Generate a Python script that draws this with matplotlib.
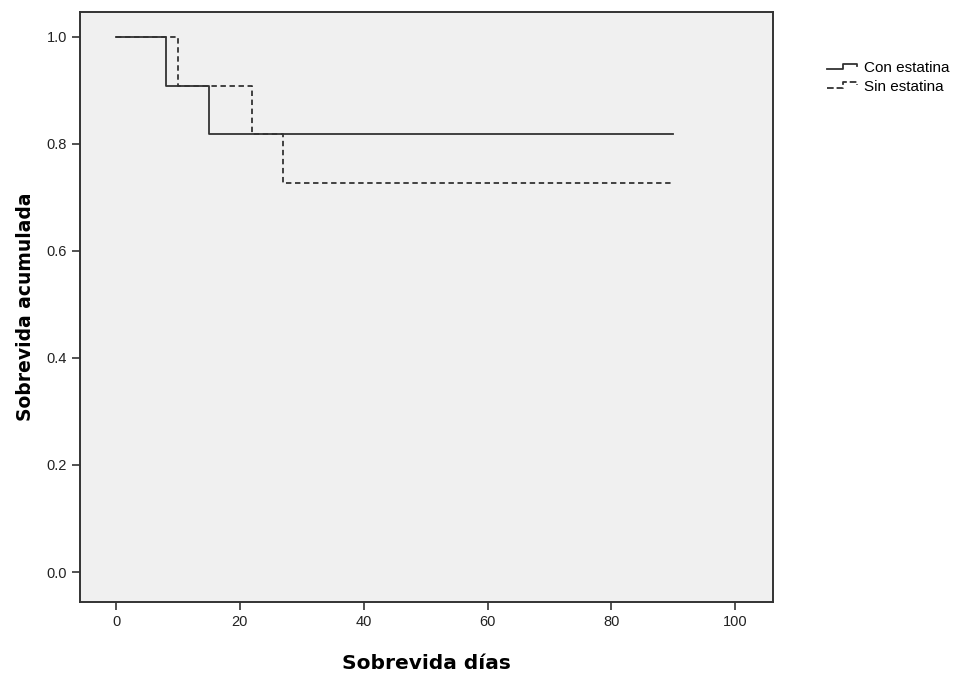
import matplotlib
matplotlib.use('Agg')
import matplotlib.pyplot as plt
from matplotlib.lines import Line2D
from matplotlib.legend_handler import HandlerLine2D

# Kaplan-Meier step data (days, cumulative survival)
con_t = [0, 8, 15, 90]
con_s = [1.0, 0.909, 0.818, 0.818]
sin_t = [0, 10, 22, 27, 90]
sin_s = [1.0, 0.909, 0.818, 0.727, 0.727]

groups = ['Con estatina', 'Sin estatina']
x_ticks = [0, 20, 40, 60, 80, 100]
y_ticks = [0.0, 0.2, 0.4, 0.6, 0.8, 1.0]
y_ticklabels = ['0.0', '0.2', '0.4', '0.6', '0.8', '1.0']


class StepHandler(HandlerLine2D):
    # draw a little step glyph in the legend, like SPSS does
    def create_artists(self, legend, orig_handle, xdescent, ydescent,
                       width, height, fontsize, trans):
        x0 = -xdescent
        y0 = -ydescent
        xs = [x0, x0 + width * 0.45, x0 + width * 0.45, x0 + width * 0.85, x0 + width * 0.85]
        ys = [y0 + height * 0.3, y0 + height * 0.3, y0 + height * 0.8, y0 + height * 0.8, y0 + height * 0.55]
        ln = Line2D(xs, ys, color=orig_handle.get_color(),
                    linestyle=orig_handle.get_linestyle(),
                    linewidth=orig_handle.get_linewidth())
        ln.set_transform(trans)
        return [ln]


plt.rcParams['font.family'] = ['Liberation Sans', 'DejaVu Sans']

fig = plt.figure(figsize=(9.65, 6.88), dpi=100)
ax = fig.add_axes([0.083, 0.125, 0.718, 0.858])
ax.set_facecolor('#f0f0f0')

l1, = ax.step(con_t, con_s, where='post', color='#333333', linewidth=1.3, linestyle='-')
l2, = ax.step(sin_t, sin_s, where='post', color='#333333', linewidth=1.3, linestyle=(0, (3, 2)))

ax.set_xlim(-5.8, 106.1)
ax.set_ylim(-0.056, 1.047)
ax.set_xticks(x_ticks)
ax.set_yticks(y_ticks)
ax.set_yticklabels(y_ticklabels)
ax.tick_params(axis='both', direction='out', length=6, width=1.2, color='#333333',
               labelsize=10.5, labelcolor='#222222')
for sp in ax.spines.values():
    sp.set_linewidth(1.4)
    sp.set_color('#333333')

ax.set_xlabel('Sobrevida días', fontsize=14.5, fontweight='bold', family='DejaVu Sans', labelpad=18)
ax.set_ylabel('Sobrevida acumulada', fontsize=13.5, fontweight='bold', family='DejaVu Sans', labelpad=8)

fig.legend([l1, l2], groups, loc='upper left', bbox_to_anchor=(0.849, 0.922),
           frameon=False, fontsize=11, handler_map={Line2D: StepHandler()},
           handlelength=2.3, handletextpad=0.15, labelspacing=0.3, borderpad=0)

fig.savefig('out.png', dpi=100, facecolor='white')
plt.close()
